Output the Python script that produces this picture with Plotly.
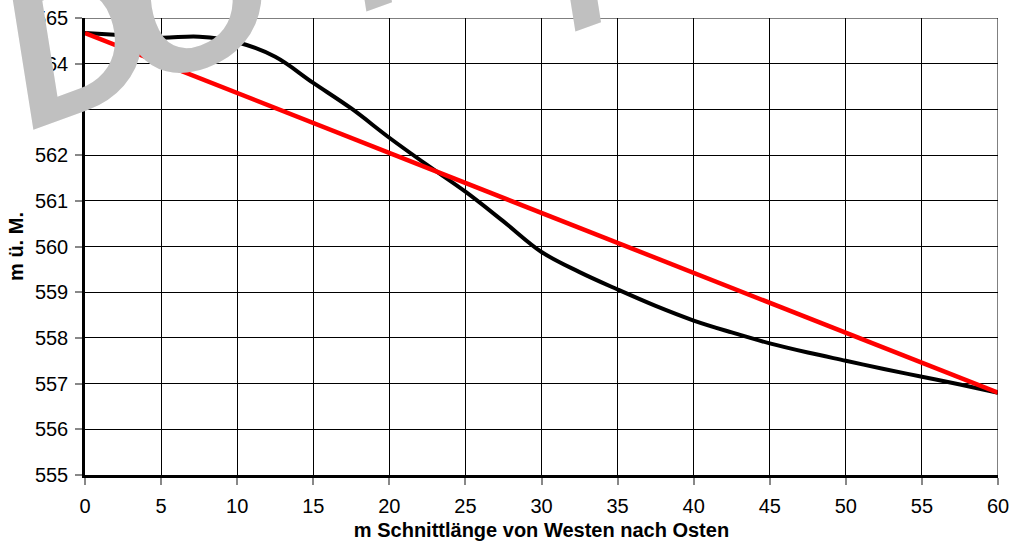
import plotly.graph_objects as go

# Data
x_profile = [0, 2.5, 5, 7.5, 10, 12.5, 15, 17.5, 20, 22.5, 25, 27.5, 30, 32.5, 35,
             37.5, 40, 42.5, 45, 47.5, 50, 52.5, 55, 57.5, 60]
y_profile = [564.67, 564.62, 564.57, 564.59, 564.47, 564.15, 563.58, 563.02, 562.38,
             561.78, 561.20, 560.55, 559.88, 559.44, 559.06, 558.70, 558.38, 558.12,
             557.88, 557.68, 557.50, 557.32, 557.15, 556.98, 556.80]
x_line = [0, 60]
y_line = [564.67, 556.80]

x_ticks = list(range(0, 61, 5))
y_ticks = list(range(555, 566, 1))

fig = go.Figure()
fig.add_trace(go.Scatter(x=x_profile, y=y_profile, mode="lines",
                         line=dict(color="#000000", width=4, shape="spline", smoothing=1.0),
                         showlegend=False, hoverinfo="skip"))
fig.add_trace(go.Scatter(x=x_line, y=y_line, mode="lines",
                         line=dict(color="#ff0000", width=4.5),
                         showlegend=False, hoverinfo="skip"))

font_family = "Liberation Sans, Arial, sans-serif"

fig.update_layout(
    width=1013, height=544,
    margin=dict(l=85, r=15, t=18, b=69),
    paper_bgcolor="white", plot_bgcolor="white",
    font=dict(family=font_family, size=20, color="#000"),
    xaxis=dict(range=[0, 60], tickvals=x_ticks, ticktext=[str(v) for v in x_ticks],
               showgrid=True, gridcolor="#000", gridwidth=1,
               showline=True, linecolor="#000", linewidth=2.5, mirror=False,
               ticks="outside", ticklen=7, tickcolor="#888", tickwidth=1.5,
               ticklabelstandoff=4, automargin=False, ticklabeloverflow="allow",
               zeroline=False, tickfont=dict(size=20),
               title=dict(text="<b>m Schnittlänge von Westen nach Osten</b>",
                          font=dict(size=20), standoff=8)),
    yaxis=dict(range=[555, 565], tickvals=y_ticks, ticktext=[str(v) for v in y_ticks],
               showgrid=True, gridcolor="#000", gridwidth=1,
               showline=True, linecolor="#000", linewidth=2.5, mirror=False,
               ticks="outside", ticklen=7, tickcolor="#888", tickwidth=1.5,
               ticklabelstandoff=3, automargin=False, ticklabeloverflow="allow",
               zeroline=False, tickfont=dict(size=20),
               title=dict(text="<b>m ü. M.</b>", font=dict(size=20), standoff=6)),
)

# right and top border lines (grid at 60 and 565)
fig.add_shape(type="line", xref="x", yref="y", x0=60, x1=60, y0=555, y1=565,
              line=dict(color="#000", width=1))
fig.add_shape(type="line", xref="x", yref="y", x0=0, x1=60, y0=565, y1=565,
              line=dict(color="#000", width=1))

# watermark (partially visible at the top edge)
wm_big = dict(size=205, color="#c0c0c0", family=font_family)
wm_font = dict(size=190, color="#c0c0c0", family=font_family)
fig.add_annotation(text="<b><i>D</i></b>", xref="paper", yref="paper",
                   x=-0.0109, y=0.9561, xanchor="center", yanchor="middle",
                   showarrow=False, textangle=-20, font=wm_big)
fig.add_annotation(text="<b><i>O</i></b>", xref="paper", yref="paper",
                   x=0.1129, y=1.046, xanchor="center", yanchor="middle",
                   showarrow=False, textangle=-20, font=wm_big)
fig.add_annotation(text="<b><i>I</i></b>", xref="paper", yref="paper",
                   x=0.3095, y=1.168, xanchor="center", yanchor="middle",
                   showarrow=False, textangle=-20, font=wm_font)
fig.add_annotation(text="<b><i>I</i></b>", xref="paper", yref="paper",
                   x=0.5383, y=1.1242, xanchor="center", yanchor="middle",
                   showarrow=False, textangle=-20, font=wm_font)

fig.write_html("out.html",
               config={"displayModeBar": False},
               post_script="document.body.style.margin='0';document.body.style.overflow='hidden';")
